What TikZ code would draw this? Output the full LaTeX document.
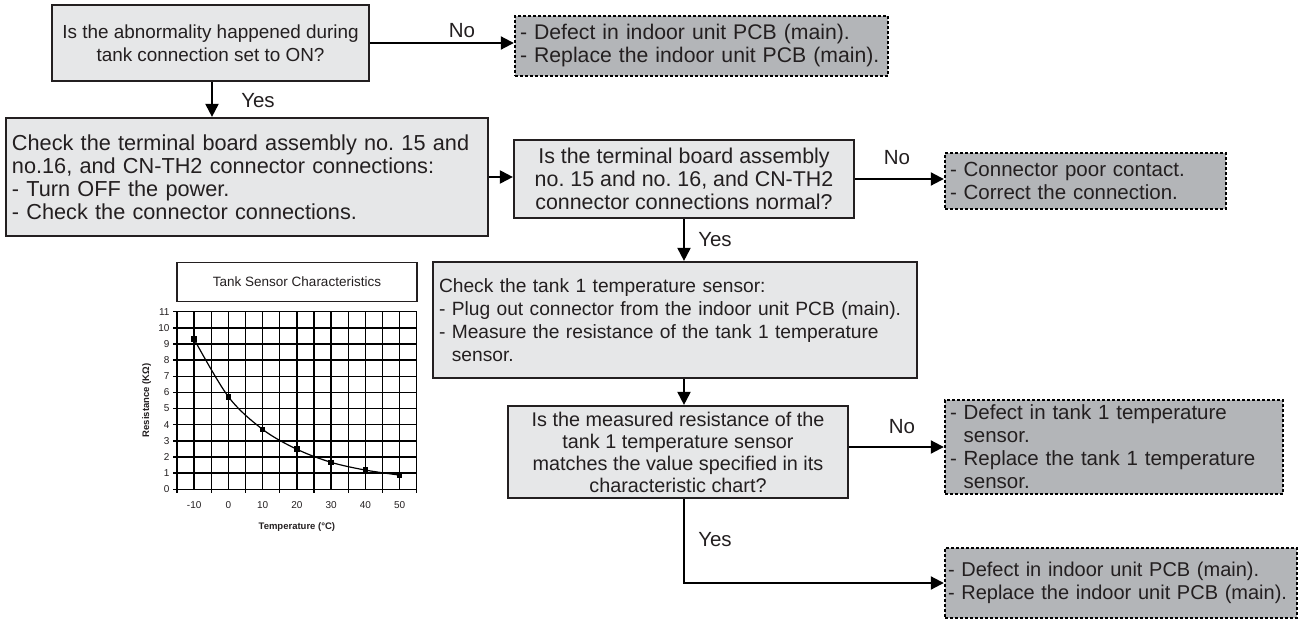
\documentclass[tikz,border=0pt]{standalone}
\usepackage{fontspec}
\setmainfont{Liberation Sans}
\usetikzlibrary{arrows.meta, positioning, calc}
\definecolor{ink}{HTML}{231F20}
\definecolor{boxfill}{HTML}{E6E7E8}
\definecolor{endfill}{HTML}{B3B5B8}
\newcommand{\boxfont}[1]{\fontsize{#1}{23}\selectfont}

\begin{document}
\begin{tikzpicture}[x=1pt, y=-1pt,
  txt/.style={text=ink, font=\boxfont{20.5}},
  proc/.style={txt, draw=ink, line width=2.2pt, fill=boxfill, inner xsep=6pt, inner ysep=0pt},
  ask/.style={proc, align=center},
  finish/.style={txt, draw=black, line width=2.4pt, dash pattern=on 3pt off 2pt,
    fill=endfill, inner xsep=5pt, inner ysep=0pt, align=left},
  arr/.style={draw=black, line width=2pt, -{Triangle[length=13pt, width=13pt]}},
  grid/.style={draw=black, line width=1.4pt},
  tick/.style={text=ink, font=\fontsize{10}{12}\selectfont}]
\useasboundingbox (0,0) rectangle (1308,636);

% decision boxes and check boxes
\node[ask, font=\boxfont{18.9}, minimum width=317pt, minimum height=76pt] (q1) at (210.5,43)
  {Is the abnormality happened during\\tank connection set to ON?};
\node[finish, font=\boxfont{21.2}, text width=363pt, minimum height=60pt] (d1) at (701.5,46)
  {- Defect in indoor unit PCB (main).\\- Replace the indoor unit PCB (main).};
\node[proc, font=\boxfont{21.7}, align=left, text width=470pt, minimum height=118pt] (c1) at (247,177)
  {Check the terminal board assembly no.\ 15 and\\no.16, and CN-TH2 connector connections:\\- Turn OFF the power.\\- Check the connector connections.};
\node[ask, font=\boxfont{21.4}, minimum width=340pt, minimum height=78pt] (q2) at (684,179)
  {Is the terminal board assembly\\no.\ 15 and no.\ 16, and CN-TH2\\connector connections normal?};
\node[finish, text width=271pt, minimum height=56pt] (d2) at (1085.5,181)
  {- Connector poor contact.\\- Correct the connection.};
\node[proc, font=\boxfont{19.2}, align=left, text width=472pt, minimum height=116pt] (c2) at (675,320)
  {Check the tank 1 temperature sensor:\\- Plug out connector from the indoor unit PCB (main).\\- Measure the resistance of the tank 1 temperature\\\phantom{- }sensor.};
\node[ask, font=\fontsize{19.8}{22}\selectfont, minimum width=340pt, minimum height=92pt] (q3) at (678,452)
  {Is the measured resistance of the\\tank 1 temperature sensor\\matches the value specified in its\\characteristic chart?};
\node[finish, text width=328pt, minimum height=94pt] (d3) at (1114,447)
  {- Defect in tank 1 temperature\\\phantom{- }sensor.\\- Replace the tank 1 temperature\\\phantom{- }sensor.};
\node[finish, font=\boxfont{20}, inner xsep=3pt, text width=346pt, minimum height=70pt] (d4) at (1121,583)
  {- Defect in indoor unit PCB (main).\\- Replace the indoor unit PCB (main).};

% connectors
\draw[arr] (q1.east) -- (q1.east -| d1.west);
\node[txt] (no1) at (462,31) {No};
\draw[arr] (q1.south -| 212,0) -- (c1.north -| 212,0);
\node[txt] (yes1) at (258,101) {Yes};
\draw[arr] (c1.east) -- (c1.east -| q2.west);
\draw[arr] (q2.east) -- (q2.east -| d2.west);
\node[txt] (no2) at (897,158) {No};
\draw[arr] (q2.south) -- (q2.south |- c2.north);
\node[txt] (yes2) at (715,240) {Yes};
\draw[arr] (q2.south |- c2.south) -- (q2.south |- q3.north);
\draw[arr] (q3.east |- d3.west) -- (d3.west);
\node[txt] (no3) at (902,427) {No};
\draw[arr] (q2.south |- q3.south) |- (d4.west);
\node[txt] (yes3) at (715,540) {Yes};

% sensor chart
\node[draw=ink, line width=1.4pt, minimum width=240pt, minimum height=39pt, inner sep=0pt,
  text=ink, font=\fontsize{13.5}{16}\selectfont] (ctitle) at (297,282) {Tank Sensor Characteristics};
\begin{scope}[shift={(228.4,489.3)}, x=3.424pt, y=16.15pt]
  \foreach \t in {-10,-5,...,50}
    \draw[grid] (\t,0) -- (\t,11);
  \foreach \r in {1,...,10}
    \draw[grid] (-15,\r) -- (55,\r);
  \draw[grid] (-15,0) rectangle (55,11);
  \foreach \r in {0,...,11} {
    \draw[grid] (-15,\r) -- ++(-4pt,0pt);
    \node[tick, left] at (-16.2,\r) {\r};
  }
  \foreach \t in {-15,-5,...,55}
    \draw[grid] (\t,0) -- ++(0pt,-4pt);
  \foreach \t in {-10,0,...,50}
    \node[tick] at (\t,-1) {\t};
  \node[text=ink, font=\fontsize{9.5}{11}\selectfont\bfseries] at (20,-2.35) {Temperature (°C)};
  \node[text=ink, font=\fontsize{9.5}{11}\selectfont\bfseries, rotate=90] at (-23.9,5.5) {Resistance (KΩ)};
  % measured curve
  \draw[line width=1.2pt] plot[smooth, tension=0.55] coordinates
    {(-10,9.29) (0,5.73) (10,3.71) (20,2.48) (30,1.67) (40,1.19) (50,0.88)};
  \foreach \t/\r in {-10/9.29, 0/5.73, 10/3.71, 20/2.48, 30/1.67, 40/1.19, 50/0.88}
    \fill (\t,\r) +(-2.8pt,-2.8pt) rectangle +(2.8pt,2.8pt);
\end{scope}
\end{tikzpicture}
\end{document}
